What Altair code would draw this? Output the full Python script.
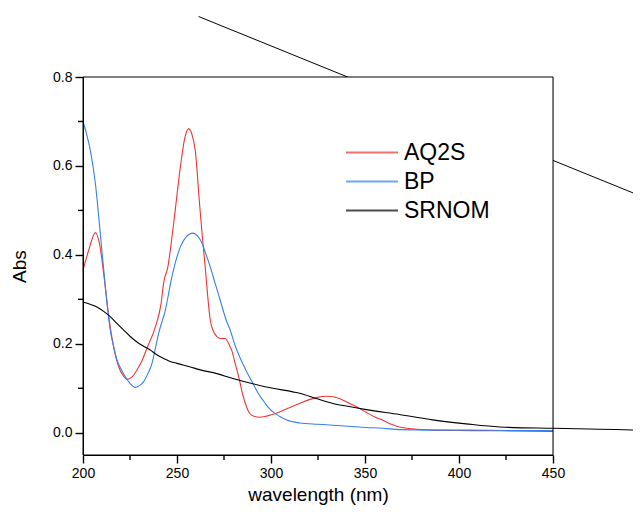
import altair as alt
import pandas as pd

series_names = ["AQ2S", "BP", "SRNOM"]
series_colors = ["#ee3535", "#3580ea", "#000000"]

aq2s_nm = [200, 203, 206.6, 209, 211, 213.7, 216.3, 219, 221.5, 223.4, 226, 228.7, 231.5, 234, 238.5,
           241.5, 243, 245, 248.2, 251.8, 254, 256.2, 258, 259.7, 262, 263.5, 265, 266.5, 267.7, 269.1,
           271.2, 273, 275.7, 277.5, 279.2, 281, 282.8, 285, 287, 288.6, 291, 293.9, 298, 302.8, 309,
           315.2, 320, 324.1, 329.5, 333, 337, 341.8, 346, 350.6, 355, 359.5, 364, 368.3, 375, 386,
           400, 421.5, 450]
aq2s_abs = [0.366, 0.41, 0.450, 0.42, 0.358, 0.261, 0.193, 0.148, 0.128, 0.120, 0.125, 0.141, 0.163, 0.190, 0.238,
            0.29, 0.34, 0.37, 0.470, 0.598, 0.66, 0.684, 0.67, 0.635, 0.515, 0.44, 0.373, 0.30, 0.253, 0.231,
            0.216, 0.212, 0.212, 0.200, 0.184, 0.155, 0.126, 0.085, 0.058, 0.044, 0.037, 0.035, 0.038, 0.044, 0.055,
            0.066, 0.074, 0.079, 0.082, 0.081, 0.076, 0.066, 0.057, 0.046, 0.036, 0.028, 0.019, 0.013, 0.009, 0.006,
            0.005, 0.0045, 0.003]

bp_nm = [200, 202, 203.9, 206.6, 209.2, 211.9, 214.5, 216.5, 218.1, 220, 222.5, 225, 227.8, 230, 232.3,
         234.5, 236.7, 238.5, 240.2, 243.8, 247.3, 251.8, 255, 258.5, 261, 263.3, 265.5, 267.7, 270, 273,
         276.2, 278.3, 281, 283.3, 287, 290.4, 293, 295.7, 298, 301, 304.5, 308.1, 315.2, 325, 332.9,
         350.6, 359.3, 368.3, 385, 403.8, 430, 450]
bp_abs = [0.70, 0.67, 0.635, 0.560, 0.448, 0.328, 0.231, 0.19, 0.163, 0.145, 0.126, 0.111, 0.102, 0.106, 0.115,
          0.133, 0.156, 0.19, 0.223, 0.276, 0.351, 0.418, 0.441, 0.449, 0.442, 0.426, 0.40, 0.373, 0.340, 0.298,
          0.253, 0.231, 0.195, 0.171, 0.138, 0.111, 0.090, 0.073, 0.060, 0.047, 0.037, 0.029, 0.022, 0.019, 0.017,
          0.012, 0.010, 0.007, 0.006, 0.006, 0.005, 0.005]

srnom_nm = [200, 203, 207.4, 211, 214.5, 218, 221.6, 225, 228.7, 232, 235.8, 239, 242.9, 246, 250,
            257.1, 262, 271.2, 279.7, 285, 297.5, 311.6, 315.2, 324.1, 332.9, 340, 350.6, 368.3, 386,
            403.8, 421.5, 450, 474.7, 496, 505]
srnom_abs = [0.294, 0.290, 0.283, 0.273, 0.261, 0.246, 0.231, 0.217, 0.204, 0.195, 0.186, 0.176, 0.167, 0.161, 0.156,
             0.148, 0.142, 0.133, 0.122, 0.116, 0.103, 0.092, 0.089, 0.077, 0.066, 0.060, 0.052, 0.041, 0.029,
             0.020, 0.013, 0.010, 0.008, 0.006, 0.0055]

diag_nm = [261.5, 505]
diag_abs = [0.936, 0.518]

x_major = [200, 250, 300, 350, 400, 450]
x_minor = [225, 275, 325, 375, 425]
y_major = [0.0, 0.2, 0.4, 0.6, 0.8]
y_minor = [0.1, 0.3, 0.5, 0.7]

rows = []
for name, xs, ys in zip(series_names, [aq2s_nm, bp_nm, srnom_nm], [aq2s_abs, bp_abs, srnom_abs]):
    for x, y in zip(xs, ys):
        rows.append({"series": name, "wavelength": x, "abs": y})
df = pd.DataFrame(rows)
diag_df = pd.DataFrame({"wavelength": diag_nm, "abs": diag_abs})
frame_df = pd.DataFrame({"wavelength": [200], "wavelength2": [450], "abs": [-0.05], "abs2": [0.8]})
xminor_df = pd.DataFrame({"wavelength": x_minor})
yminor_df = pd.DataFrame({"abs": y_minor})

W, H = 470, 378
FONT = "Liberation Sans"
xscale = alt.Scale(domain=[200, 450], nice=False, zero=False)
yscale = alt.Scale(domain=[-0.05, 0.8], nice=False, zero=False)

xaxis = alt.Axis(
    title="wavelength (nm)", values=x_major, tickSize=8, tickWidth=1.4, tickColor="black",
    grid=False, domainColor="black", labelColor="black", titleColor="black",
    labelFont=FONT, labelFontSize=14, titleFont=FONT, titleFontSize=19, titleFontWeight="normal",
    labelPadding=3, titlePadding=5, zindex=1, labelFlush=False, labelOverlap=False,
)
yaxis = alt.Axis(
    title="Abs", values=y_major, format=".1f", tickSize=8, tickWidth=1.4, tickColor="black",
    grid=False, domainColor="black", labelColor="black", titleColor="black",
    labelFont=FONT, labelFontSize=14, titleFont=FONT, titleFontSize=19, titleFontWeight="normal",
    labelPadding=3, titlePadding=23, zindex=1, labelFlush=False, labelOverlap=False,
)
X = alt.X("wavelength:Q", scale=xscale, axis=xaxis)
Y = alt.Y("abs:Q", scale=yscale, axis=yaxis)

diag = alt.Chart(diag_df).mark_line(color="black", strokeWidth=1, clip=False).encode(x=X, y=Y)

bg = alt.Chart(frame_df).mark_rect(fill="white").encode(x=X, x2="wavelength2:Q", y=Y, y2="abs2:Q")

lines = alt.Chart(df).mark_line(strokeWidth=1.1, clip=False, interpolate="monotone").encode(
    x=X, y=Y,
    color=alt.Color("series:N", scale=alt.Scale(domain=series_names, range=series_colors),
                    legend=alt.Legend(orient="none", legendX=262, legendY=62, title=None,
                                      symbolType="stroke", symbolSize=2704, symbolStrokeWidth=2,
                                      symbolOpacity=0.7, labelFont=FONT, labelFontSize=23,
                                      labelColor="black", labelOffset=5, padding=0,
                                      clipHeight=27, rowPadding=2)),
)

frame = alt.Chart(frame_df).mark_rect(fill="transparent", stroke="black", strokeWidth=1).encode(
    x=X, x2="wavelength2:Q", y=Y, y2="abs2:Q")

xminor = alt.Chart(xminor_df).mark_rule(color="black", strokeWidth=1.4, clip=False).encode(
    x=X, y=alt.value(H), y2=alt.value(H + 5))
yminor = alt.Chart(yminor_df).mark_rule(color="black", strokeWidth=1.4, clip=False).encode(
    y=Y, x=alt.value(0), x2=alt.value(-5))

chart = alt.layer(diag, bg, lines, frame, xminor, yminor).properties(
    width=W, height=H,
    autosize=alt.AutoSizeParams(type="none"),
    padding={"left": 75, "top": 69, "right": 80, "bottom": 53},
).configure_view(stroke=None).configure(background="white")

chart.save("out.html", embed_options={"renderer": "svg", "actions": False})
